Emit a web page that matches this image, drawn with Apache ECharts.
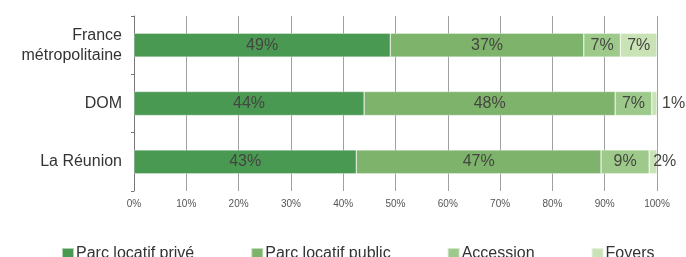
<!DOCTYPE html>
<html lang="fr">
<head>
    <meta charset="UTF-8">
    <title>Statut d'occupation</title>
    <script src="https://cdn.jsdelivr.net/npm/echarts@6/dist/echarts.min.js"></script>
    <style>
        html, body { margin: 0; padding: 0; background: #fff; }
        #chart { width: 686px; height: 257px; }
    </style>
</head>
<body>
    <div id="chart"></div>
    <script>
        // categories (top to bottom)
        const territoires = ['France\nmétropolitaine', 'DOM', 'La Réunion'];
        const xTicks = [0, 10, 20, 30, 40, 50, 60, 70, 80, 90, 100];

        // parts en %
        const parcPrive = [49, 44, 42.5];
        const parcPublic = [37, 48, 46.8];
        const accession = [7, 7, 9.2];
        const foyers = [7, 1, 1.5];

        const seriesNames = ['Parc locatif privé', 'Parc locatif public', 'Accession', 'Foyers'];
        const colors = ['#4a9952', '#7db36b', '#9dca8b', '#c9e3b7'];

        const chart = echarts.init(document.getElementById('chart'));

        const labelBase = {
            show: true,
            position: 'inside',
            fontFamily: 'Liberation Sans, Arial, sans-serif',
            fontSize: 16,
            color: '#454540',
            formatter: p => Math.round(p.value) + '%'
        };

        function makeSeries(name, values, color, idx) {
            return {
                name: name,
                type: 'bar',
                stack: 'total',
                barWidth: 24,
                itemStyle: { color: color, borderColor: 'rgba(255,255,255,0.55)', borderWidth: 0.6 },
                label: labelBase,
                data: values.map((v, i) => {
                    // petites valeurs de Foyers : étiquette hors de la barre
                    if (idx === 3 && i === 1) return { value: v, label: { position: 'right', distance: 5 } };
                    if (idx === 3 && i === 2) return { value: v, label: { position: 'insideLeft', distance: 4 } };
                    return v;
                })
            };
        }

        const option = {
            animation: false,
            color: colors,
            grid: { left: 134, right: 29, top: 16, bottom: 66 },
            legend: {
                data: seriesNames,
                left: 56,
                top: 241,
                itemWidth: 12,
                itemHeight: 12,
                itemGap: 56,
                icon: 'rect',
                textStyle: {
                    fontFamily: 'Liberation Sans, Arial, sans-serif',
                    fontSize: 16,
                    color: '#333',
                    padding: [0, 0, 0, -3]
                }
            },
            xAxis: {
                type: 'value',
                min: 0,
                max: 100,
                interval: 10,
                axisLine: { show: false },
                axisTick: { show: false },
                axisLabel: {
                    margin: 8,
                    fontFamily: 'Liberation Sans, Arial, sans-serif',
                    fontSize: 10,
                    color: '#555',
                    formatter: v => (xTicks.includes(v) ? v + '%' : '')
                },
                splitLine: { show: true, lineStyle: { color: '#a0a0a0', width: 1 } }
            },
            yAxis: {
                type: 'category',
                inverse: true,
                data: territoires,
                axisLine: { show: true, lineStyle: { color: '#777', width: 1 } },
                axisTick: { show: true, length: 3, lineStyle: { color: '#777' } },
                axisLabel: {
                    margin: 12,
                    fontFamily: 'Liberation Sans, Arial, sans-serif',
                    fontSize: 16,
                    lineHeight: 20,
                    color: '#333',
                    align: 'right'
                }
            },
            series: [
                makeSeries(seriesNames[0], parcPrive, colors[0], 0),
                makeSeries(seriesNames[1], parcPublic, colors[1], 1),
                makeSeries(seriesNames[2], accession, colors[2], 2),
                makeSeries(seriesNames[3], foyers, colors[3], 3)
            ]
        };

        chart.setOption(option);
    </script>
</body>
</html>
